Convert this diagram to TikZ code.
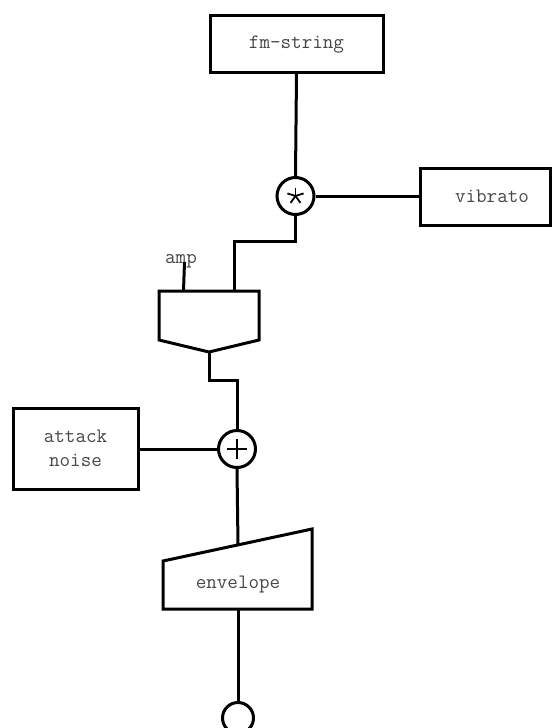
\documentclass[tikz,border=0pt]{standalone}
\begin{document}
\begin{tikzpicture}[x=1pt,y=-1pt,
  wire/.style={line width=3pt, line join=miter},
  box/.style={draw, line width=3pt, rectangle, inner sep=0pt},
  lbl/.style={font=\fontsize{20.5}{24}\selectfont\ttfamily, text=black!72, align=center},
  op/.style={draw, circle, line width=3pt, minimum size=37pt, inner sep=0pt},
  sym/.style={line width=1.8pt}]
\useasboundingbox (0,0) rectangle (552,728);
% boxes
\node[box, minimum width=173pt, minimum height=57pt] (fm) at (296.5,43.5) {};
\node[lbl] (fmt) at (296.5,44.5) {fm-string};
\node[box, minimum width=130pt, minimum height=57pt] (vib) at (485,196.5) {};
\node[lbl] (vibt) at (492,196.5) {vibrato};
\node[box, minimum width=125pt, minimum height=81pt] (att) at (75.5,448.5) {};
\node[lbl] (attt) at (75.5,448.5) {attack\\noise};
% operators
\node[op] (mul) at (295.5,196) {};
\foreach \a in {90,18,162,234,306}
  \draw[sym] (mul.center) -- ++({8.5*cos(\a)},{-8.5*sin(\a)});
\node[op] (add) at (237,449) {};
\draw[sym] ([xshift=-10pt]add.center) -- ([xshift=10pt]add.center);
\draw[sym] ([yshift=-10pt]add.center) -- ([yshift=10pt]add.center);
\node[op, minimum size=31pt] (out) at (238,718) {};
% amp shape
\coordinate (ampTL) at (159,291);
\coordinate (ampTR) at (259,291);
\coordinate (ampIn) at (234,291);
\coordinate (ampCtl) at (183.5,291);
\coordinate (ampOut) at (209,352);
\draw[wire] (ampTL) -- (ampTR) -- (259,340) -- (ampOut) -- (159,340) -- cycle;
\node[lbl, anchor=base] (ampt) at (181,263.5) {amp};
\coordinate (ampTop) at (184.5,262);
% envelope shape
\coordinate (envIn) at (238,545);
\coordinate (envOut) at (238,609);
\draw[wire] (163,561) -- (312,529) -- (312,609) -- (163,609) -- cycle;
\node[lbl] (envt) at (238,585) {envelope};
% connectors
\draw[wire] (fm.south) -- (mul.north);
\draw[wire] (mul.east) -- (vib.west |- mul.east);
\draw[wire] (mul.south) -- (295.5,241) -- (234,241) -- (ampIn);
\draw[wire] (ampTop) -- (ampCtl);
\draw[wire] (ampOut) -- (209,380) -- (237,380) -- (add.north);
\draw[wire] (att.east |- add.west) -- (add.west);
\draw[wire] (add.south) -- (envIn);
\draw[wire] (envOut) -- (out.north);
\end{tikzpicture}
\end{document}
